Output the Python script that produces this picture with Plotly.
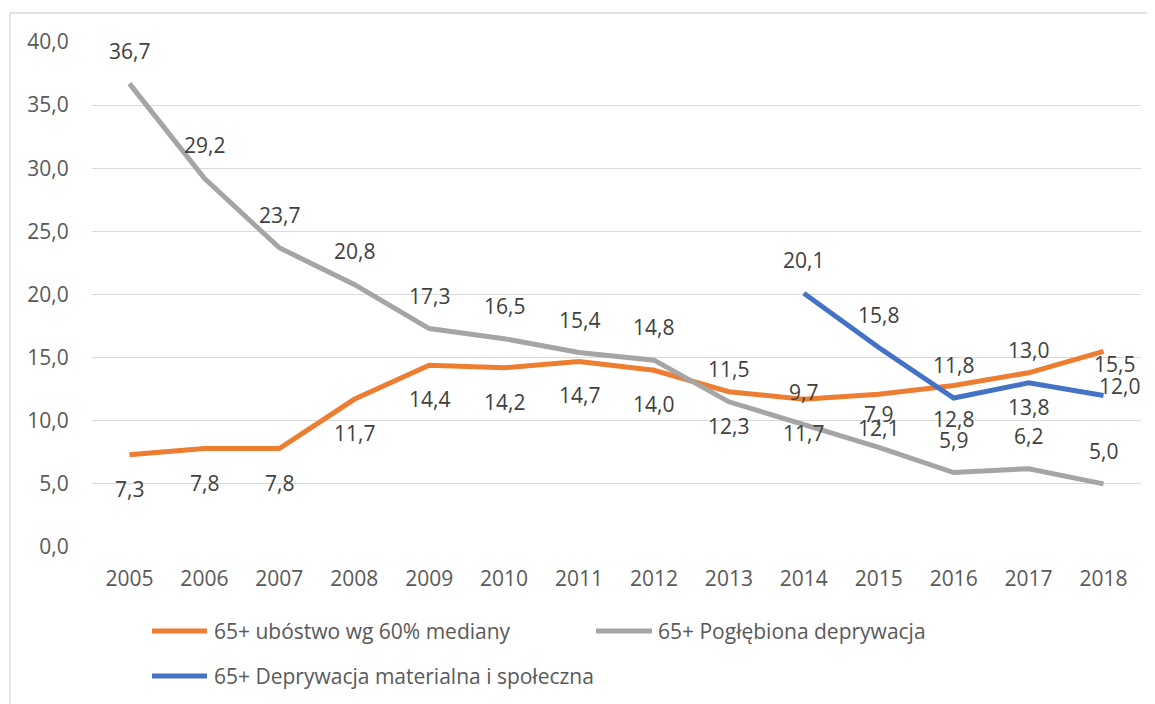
import plotly.graph_objects as go

years = ["2005", "2006", "2007", "2008", "2009", "2010", "2011",
         "2012", "2013", "2014", "2015", "2016", "2017", "2018"]
poverty = [7.3, 7.8, 7.8, 11.7, 14.4, 14.2, 14.7, 14.0, 12.3, 11.7, 12.1, 12.8, 13.8, 15.5]
deep_depr = [36.7, 29.2, 23.7, 20.8, 17.3, 16.5, 15.4, 14.8, 11.5, 9.7, 7.9, 5.9, 6.2, 5.0]
mat_years = ["2014", "2015", "2016", "2017", "2018"]
mat_soc = [20.1, 15.8, 11.8, 13.0, 12.0]

names = ["65+ ubóstwo wg 60% mediany", "65+ Pogłębiona deprywacja",
         "65+ Deprywacja materialna i społeczna"]
colors = ["#ED7D31", "#A5A5A5", "#4472C4"]
FONT = "Open Sans"
FS = 21
TXT = "#595959"
LBL = "#404040"

# page body has an 8px default margin; figure is sized to fit the window
W, H, OFF = 1147, 696, 8
PL, PR, PT, PB = 92 - OFF, 1141 - OFF, 42 - OFF, 547 - OFF  # plot area in fig px
PW, PH = PR - PL, PB - PT


def px_x(p):
    return (p - OFF - PL) / PW


def px_y(p):
    return (PB - (p - OFF)) / PH


fig = go.Figure()
fig.add_trace(go.Scatter(x=years, y=poverty, mode="lines", name=names[0],
                         line=dict(color=colors[0], width=5)))
fig.add_trace(go.Scatter(x=years, y=deep_depr, mode="lines", name=names[1],
                         line=dict(color=colors[1], width=5)))
fig.add_trace(go.Scatter(x=mat_years, y=mat_soc, mode="lines", name=names[2],
                         line=dict(color=colors[2], width=5)))


def fmt(v):
    return f"{v:.1f}".replace(".", ",")


def add_labels(xs_list, vals, dy, last_shift=None):
    n = len(vals)
    for i, (x, v) in enumerate(zip(xs_list, vals)):
        xsh, ysh = 0, dy
        if last_shift is not None and i == n - 1:
            xsh, ysh = last_shift
        fig.add_annotation(x=years.index(x), y=v, text=fmt(v), showarrow=False,
                           xref="x", yref="y", xshift=xsh, yshift=ysh,
                           font=dict(family=FONT, size=FS, color=LBL))


add_labels(years, poverty, -34, last_shift=(11, -13))
add_labels(years, deep_depr, 33)
add_labels(mat_years, mat_soc, 33, last_shift=(16, 10))

# legend (drawn as line samples + text, Excel style)
legend_items = [(152, 207, 631, 212), (596, 652, 631, 656), (152, 207, 676, 212)]
shapes = [dict(type="rect", xref="paper", yref="paper",
               x0=px_x(10), x1=px_x(1175), y0=px_y(760), y1=px_y(13),
               line=dict(color="#D9D9D9", width=1.3), fillcolor="rgba(0,0,0,0)",
               layer="below")]
for (lx0, lx1, ly, tx), name, col in zip(legend_items, names, colors):
    shapes.append(dict(type="line", xref="paper", yref="paper",
                       x0=px_x(lx0), x1=px_x(lx1), y0=px_y(ly), y1=px_y(ly),
                       line=dict(color=col, width=5)))
    fig.add_annotation(x=px_x(tx), y=px_y(ly), xref="paper", yref="paper",
                       text=name, showarrow=False, xanchor="left", yanchor="middle",
                       font=dict(family=FONT, size=FS, color=TXT))

fig.update_layout(
    width=W, height=H,
    margin=dict(l=PL, r=W - PR, t=PT, b=H - PB, autoexpand=False),
    paper_bgcolor="white", plot_bgcolor="white",
    separators=", ",
    showlegend=False,
    font=dict(family=FONT, size=FS, color=TXT),
    xaxis=dict(type="category", range=[-0.5, 13.5], showgrid=False,
               showline=False, ticks="outside", ticklen=13,
               tickcolor="rgba(0,0,0,0)", tickfont=dict(size=FS, color=TXT)),
    yaxis=dict(range=[0, 40], dtick=5, tickformat=".1f", showgrid=True,
               gridcolor="#D9D9D9", gridwidth=1.3, zeroline=False,
               ticks="outside", ticklen=18, tickcolor="rgba(0,0,0,0)",
               tickfont=dict(size=FS, color=TXT)),
    shapes=shapes,
)

fig.write_html("out.html")
